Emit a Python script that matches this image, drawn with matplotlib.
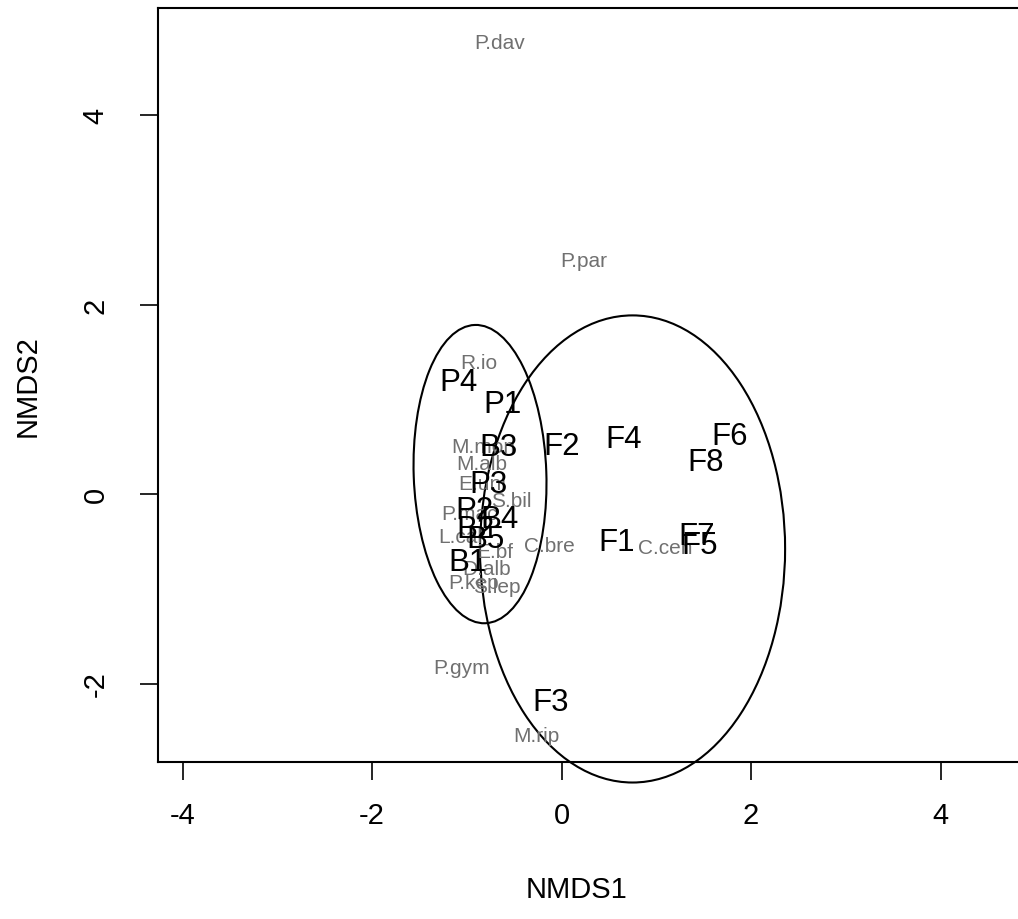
import matplotlib
matplotlib.use("Agg")
import matplotlib.pyplot as plt
from matplotlib.patches import Ellipse

plt.rcParams["font.family"] = ["Liberation Sans", "DejaVu Sans"]
plt.rcParams["axes.unicode_minus"] = False

# site scores (black labels)
site_names = ["P4", "P1", "B3", "F2", "F4", "F6", "F8", "P3", "P2", "B4",
              "B2", "B5", "B1", "F1", "F7", "F5", "F3"]
site_x = [-1.09, -0.62, -0.67, 0.00, 0.66, 1.77, 1.52, -0.77, -0.92, -0.65,
          -0.91, -0.80, -0.99, 0.58, 1.43, 1.46, -0.12]
site_y = [1.18, 0.95, 0.50, 0.51, 0.58, 0.61, 0.34, 0.11, -0.17, -0.26,
          -0.37, -0.47, -0.72, -0.51, -0.44, -0.54, -2.20]

# species scores (grey labels)
spec_names = ["P.dav", "P.par", "R.io", "M.mon", "M.alb", "E.uni", "S.bil",
              "P.mac", "L.cal", "E.bf", "D.alb", "P.kep", "S.lep", "C.bre",
              "C.cen", "P.gym", "M.rip"]
spec_x = [-0.65, 0.23, -0.87, -0.83, -0.84, -0.84, -0.53, -0.97, -1.07, -0.70,
          -0.79, -0.93, -0.68, -0.13, 1.09, -1.05, -0.27]
spec_y = [4.77, 2.46, 1.39, 0.50, 0.32, 0.11, -0.07, -0.21, -0.45, -0.61,
          -0.79, -0.93, -0.98, -0.54, -0.56, -1.83, -2.55]

# group ellipses: centre x, centre y, width, height, angle
ell_cx = [-0.86, 0.75]
ell_cy = [0.21, -0.58]
ell_w = [1.40, 3.22]
ell_h = [3.15, 4.93]
ell_ang = [2, 0]

fig = plt.figure(figsize=(10.18, 9.2), dpi=100)
ax = fig.add_axes([158 / 1018, 157 / 920, (1060 - 158) / 1018, 754 / 920])

x0 = (158 - 561.5) / 94.75
x1 = (1060 - 561.5) / 94.75
y0 = (495 - 763) / 94.75
y1 = (495 - 9) / 94.75
ax.set_xlim(x0, x1)
ax.set_ylim(y0, y1)

for cx, cy, w, h, a in zip(ell_cx, ell_cy, ell_w, ell_h, ell_ang):
    ax.add_patch(Ellipse((cx, cy), w, h, angle=a, fill=False, lw=1.5,
                         ec="black", clip_on=False))

for n, x, y in zip(spec_names, spec_x, spec_y):
    ax.text(x, y, n, color="#707070", fontsize=15, ha="center", va="center",
            clip_on=False)

for n, x, y in zip(site_names, site_x, site_y):
    ax.text(x, y, n, color="black", fontsize=22.5, ha="center", va="center",
            clip_on=False)

for s in ax.spines.values():
    s.set_linewidth(1.5)

ax.set_xticks([-4, -2, 0, 2, 4])
ax.set_xticklabels(["-4", "-2", "0", "2", "4"])
ax.set_yticks([-2, 0, 2, 4])
ax.set_yticklabels(["-2", "0", "2", "4"], rotation=90, va="center")
ax.tick_params(axis="both", length=13, width=1.2, labelsize=21)
ax.tick_params(axis="x", pad=15)
ax.tick_params(axis="y", pad=22)

fig.text(577 / 1018, 1 - 890 / 920, "NMDS1", fontsize=21, ha="center", va="center")
fig.text(28 / 1018, 1 - 386 / 920, "NMDS2", fontsize=21, ha="center", va="center",
         rotation=90)

fig.savefig("out.png", dpi=100)
